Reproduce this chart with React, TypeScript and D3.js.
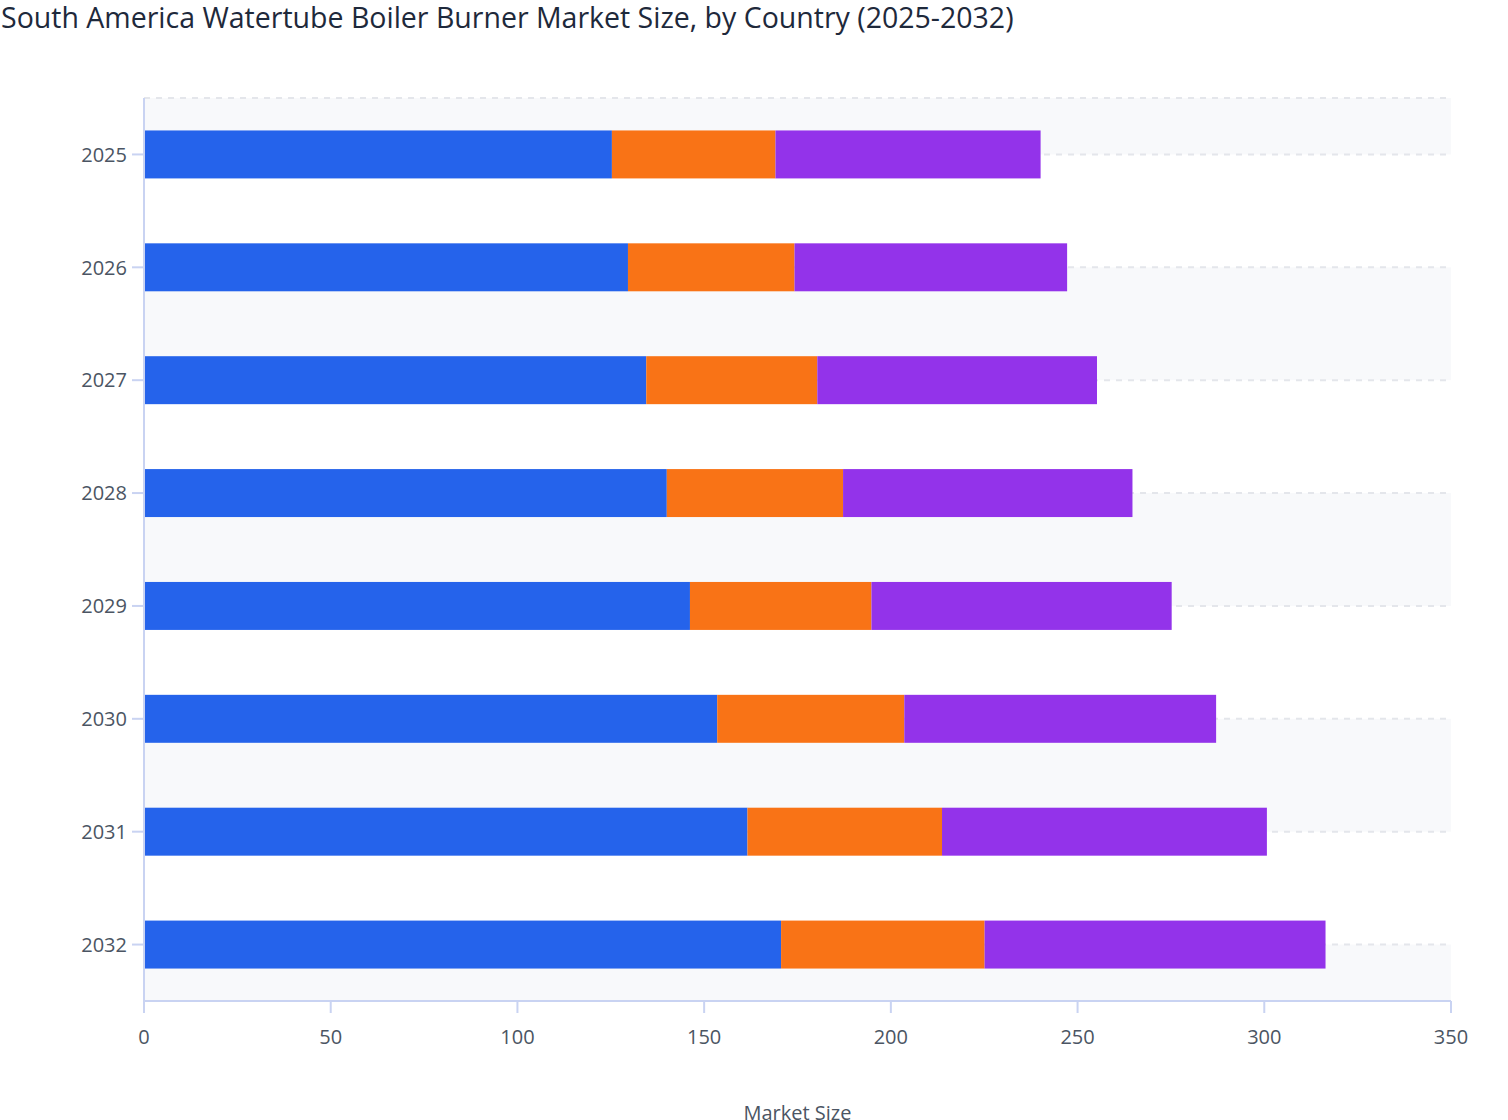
import React, { useEffect } from "react";
import * as d3 from "d3";

const years = ["2025", "2026", "2027", "2028", "2029", "2030", "2031", "2032"];
const seriesNames = ["Brazil", "Argentina", "Rest of South America"];
const brazil = [125.3, 129.6, 134.5, 140.0, 146.2, 153.5, 161.6, 170.6];
const argentina = [43.8, 44.6, 45.8, 47.2, 48.6, 50.1, 52.1, 54.5];
const restOfSA = [71.0, 73.0, 74.9, 77.5, 80.4, 83.5, 87.0, 91.3];
const xTicks = [0, 50, 100, 150, 200, 250, 300, 350];
const colors = ["#2563eb", "#f97316", "#9333ea"];

const W = 1508;
const H = 1120;
const M = { left: 144, right: 57, top: 98, bottom: 119 };
const FONT = "'Open Sans', 'Noto Sans', sans-serif";

export default function App() {
  useEffect(() => {
    document.body.style.margin = "0";
  }, []);

  const x = d3.scaleLinear().domain([0, 350]).range([M.left, W - M.right]);
  const y = d3
    .scaleBand<string>()
    .domain(years)
    .range([M.top, H - M.bottom])
    .paddingInner(0.575)
    .paddingOuter(0.2875);

  const rows = years.map((yr, i) => ({
    year: yr,
    Brazil: brazil[i],
    Argentina: argentina[i],
    "Rest of South America": restOfSA[i],
  }));
  const stacked = d3.stack<any>().keys(seriesNames)(rows);

  const centers = years.map((yr) => (y(yr) as number) + y.bandwidth() / 2);
  const gridYs = [M.top, ...centers];
  const bandEdges = [M.top, ...centers, H - M.bottom];

  const axisColor = "#c9d3f2";
  const tickText = "#4b5563";

  return (
    <svg width={W} height={H} style={{ display: "block", fontFamily: FONT }}>
      <text x={1} y={28} fontSize={28.5} fill="#1e293b" fontFamily={FONT}>
        South America Watertube Boiler Burner Market Size, by Country (2025-2032)
      </text>

      {/* alternating background bands */}
      {bandEdges.slice(0, -1).map((y0, i) =>
        i % 2 === 0 ? (
          <rect
            key={"band" + i}
            x={M.left}
            y={y0}
            width={x(350) - M.left}
            height={bandEdges[i + 1] - y0}
            fill="#f8f9fb"
          />
        ) : null
      )}

      {/* dashed grid */}
      {gridYs.map((gy, i) => (
        <line
          key={"grid" + i}
          x1={M.left}
          x2={x(350)}
          y1={gy}
          y2={gy}
          stroke="#e4e6eb"
          strokeWidth={2}
          strokeDasharray="6,6"
        />
      ))}

      {/* bars */}
      {stacked.map((s, si) => (
        <g key={s.key} fill={colors[si]}>
          {s.map((d, di) => (
            <rect
              key={di}
              x={x(d[0])}
              y={y(years[di])}
              width={x(d[1]) - x(d[0])}
              height={y.bandwidth()}
            />
          ))}
        </g>
      ))}

      {/* y axis */}
      <line x1={M.left} x2={M.left} y1={M.top} y2={H - M.bottom} stroke={axisColor} strokeWidth={2} />
      {years.map((yr, i) => (
        <g key={"yt" + yr}>
          <line x1={M.left - 12} x2={M.left} y1={centers[i]} y2={centers[i]} stroke={axisColor} strokeWidth={2} />
          <text
            x={M.left - 17}
            y={centers[i]}
            dy="0.36em"
            textAnchor="end"
            fontSize={20}
            fill={tickText}
          >
            {yr}
          </text>
        </g>
      ))}

      {/* x axis */}
      <line x1={M.left} x2={x(350)} y1={H - M.bottom} y2={H - M.bottom} stroke={axisColor} strokeWidth={2} />
      {xTicks.map((t) => (
        <g key={"xt" + t}>
          <line x1={x(t)} x2={x(t)} y1={H - M.bottom} y2={H - M.bottom + 12} stroke={axisColor} strokeWidth={2} />
          <text x={x(t)} y={1044} textAnchor="middle" fontSize={20} fill={tickText}>
            {t}
          </text>
        </g>
      ))}
      <text x={(M.left + x(350)) / 2} y={1120} textAnchor="middle" fontSize={20} fill={tickText}>
        Market Size
      </text>
    </svg>
  );
}
